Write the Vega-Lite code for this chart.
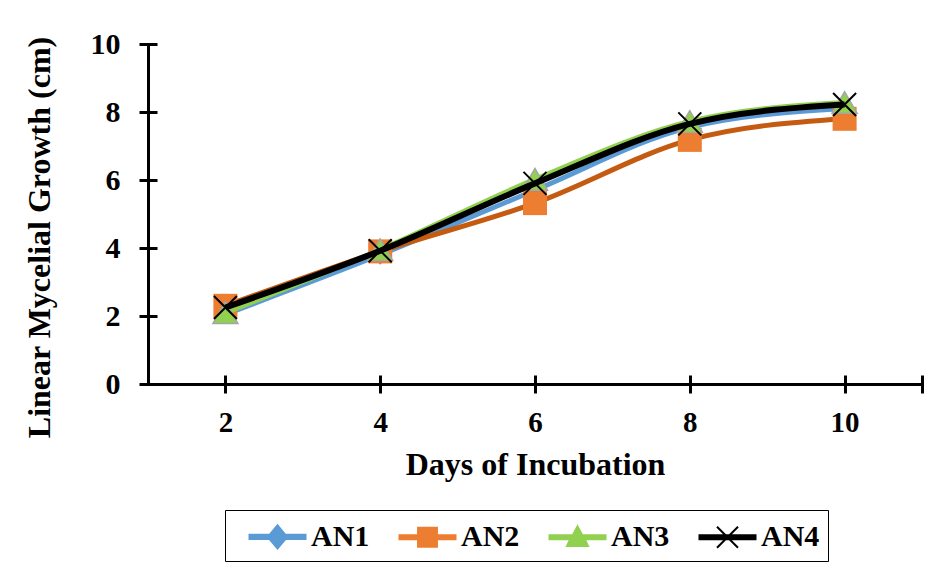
{
  "$schema": "https://vega.github.io/schema/vega-lite/v6.json",
  "width": 774,
  "height": 340,
  "autosize": "none",
  "padding": {"left": 148, "top": 44, "right": 16, "bottom": 194},
  "background": "white",
  "config": {
    "view": {"stroke": null},
    "font": "Liberation Serif"
  },
  "resolve": {"axis": {"x": "independent", "y": "independent"}},
  "data": {
    "values": [
      {"series": "AN1", "day": 2, "growth": 2.05},
      {"series": "AN1", "day": 4, "growth": 3.8},
      {"series": "AN1", "day": 6, "growth": 5.7},
      {"series": "AN1", "day": 8, "growth": 7.55},
      {"series": "AN1", "day": 10, "growth": 8.1},
      {"series": "AN2", "day": 2, "growth": 2.3},
      {"series": "AN2", "day": 4, "growth": 3.9},
      {"series": "AN2", "day": 6, "growth": 5.32},
      {"series": "AN2", "day": 8, "growth": 7.18},
      {"series": "AN2", "day": 10, "growth": 7.8},
      {"series": "AN3", "day": 2, "growth": 2.1},
      {"series": "AN3", "day": 4, "growth": 3.95},
      {"series": "AN3", "day": 6, "growth": 6.02},
      {"series": "AN3", "day": 8, "growth": 7.72},
      {"series": "AN3", "day": 10, "growth": 8.28},
      {"series": "AN4", "day": 2, "growth": 2.25},
      {"series": "AN4", "day": 4, "growth": 3.92},
      {"series": "AN4", "day": 6, "growth": 5.9},
      {"series": "AN4", "day": 8, "growth": 7.65},
      {"series": "AN4", "day": 10, "growth": 8.22}
    ]
  },
  "layer": [
    {
      "mark": {"type": "point", "opacity": 0},
      "encoding": {
        "x": {
          "field": "day",
          "type": "quantitative",
          "scale": {"domain": [1, 11], "nice": false, "zero": false},
          "axis": {
            "orient": "bottom",
            "title": null,
            "values": [2, 4, 6, 8, 10, 11],
            "labels": false,
            "domain": false,
            "grid": false,
            "tickColor": "black",
            "tickWidth": 3,
            "tickSize": 18,
            "offset": -9,
            "zindex": 1
          }
        },
        "y": {
          "field": "growth",
          "type": "quantitative",
          "scale": {"domain": [0, 10], "nice": false},
          "axis": {
            "orient": "left",
            "title": null,
            "values": [0, 2, 4, 6, 8, 10],
            "labels": false,
            "domain": false,
            "grid": false,
            "tickColor": "black",
            "tickWidth": 3,
            "tickSize": 18,
            "offset": -9,
            "zindex": 1
          }
        }
      }
    },
    {
      "encoding": {
        "x": {
          "field": "day",
          "type": "quantitative",
          "scale": {"domain": [1, 11], "nice": false, "zero": false},
          "axis": {
            "orient": "bottom",
            "title": "Days of Incubation",
            "values": [2, 4, 6, 8, 10, 11],
            "labelExpr": "datum.value == 11 ? '' : datum.label",
            "grid": false,
            "domainColor": "black",
            "domainWidth": 3,
            "ticks": false,
            "labelFont": "Liberation Serif",
            "labelFontSize": 29,
            "labelFontWeight": "bold",
            "labelColor": "black",
            "labelPadding": 24,
            "titleFont": "Liberation Serif",
            "titleFontSize": 32,
            "titleFontWeight": "bold",
            "titleColor": "black",
            "titlePadding": 12
          }
        },
        "y": {
          "field": "growth",
          "type": "quantitative",
          "scale": {"domain": [0, 10], "nice": false},
          "axis": {
            "orient": "left",
            "title": "Linear Mycelial Growth (cm)",
            "values": [0, 2, 4, 6, 8, 10],
            "grid": false,
            "domainColor": "black",
            "domainWidth": 3,
            "ticks": false,
            "labelFont": "Liberation Serif",
            "labelFontSize": 30,
            "labelFontWeight": "bold",
            "labelColor": "black",
            "labelPadding": 28,
            "titleFont": "Liberation Serif",
            "titleFontSize": 32,
            "titleFontWeight": "bold",
            "titleColor": "black",
            "titlePadding": 34,
            "titleY": 193
          }
        }
      },
      "layer": [
        {
          "transform": [{"filter": "datum.series === 'AN1'"}],
          "mark": {"type": "line", "color": "#5B9BD5", "strokeWidth": 5, "interpolate": "monotone"},
          "encoding": {}
        },
        {
          "transform": [{"filter": "datum.series === 'AN1'"}],
          "mark": {"type": "point", "shape": "diamond", "filled": true, "fill": "#5B9BD5", "opacity": 1, "size": 400}
        },
        {
          "transform": [{"filter": "datum.series === 'AN2'"}],
          "mark": {"type": "line", "color": "#C55A11", "strokeWidth": 5, "interpolate": "monotone"},
          "encoding": {}
        },
        {
          "transform": [{"filter": "datum.series === 'AN2'"}],
          "mark": {"type": "point", "shape": "square", "filled": true, "fill": "#ED7D31", "opacity": 1, "size": 576}
        },
        {
          "transform": [{"filter": "datum.series === 'AN3'"}],
          "mark": {"type": "line", "color": "#92D050", "strokeWidth": 5, "interpolate": "monotone"},
          "encoding": {}
        },
        {
          "transform": [{"filter": "datum.series === 'AN3'"}],
          "mark": {"type": "point", "shape": "triangle-up", "filled": true, "fill": "#92D050", "stroke": "#A5A5A5", "strokeWidth": 1.5, "opacity": 1, "size": 625}
        },
        {
          "transform": [{"filter": "datum.series === 'AN4'"}],
          "mark": {"type": "line", "color": "black", "strokeWidth": 6, "interpolate": "monotone"},
          "encoding": {}
        },
        {
          "transform": [{"filter": "datum.series === 'AN4'"}],
          "mark": {"type": "point", "shape": "M-1,-1L1,1M-1,1L1,-1", "filled": false, "stroke": "black", "strokeWidth": 2, "opacity": 1, "size": 529}
        },
        {
          "transform": [{"filter": "false"}],
          "mark": {"type": "point", "filled": true, "opacity": 1, "size": 1225, "strokeWidth": 2},
          "encoding": {
            "shape": {
              "field": "series",
              "type": "nominal",
              "scale": {
                "domain": ["AN1", "AN2", "AN3", "AN4"],
                "range": [
                  "M-1.6,-0.12L-0.45,-0.12L0,-0.66L0.45,-0.12L1.6,-0.12L1.6,0.12L0.45,0.12L0,0.66L-0.45,0.12L-1.6,0.12Z",
                  "M-1.6,-0.12H-0.54V-0.54H0.54V-0.12H1.6V0.12H0.54V0.54H-0.54V0.12H-1.6Z",
                  "M-1.6,-0.12L-0.27,-0.12L0,-0.62L0.27,-0.12L1.6,-0.12L1.6,0.12L0.42,0.12L0.6,0.5L-0.6,0.5L-0.42,0.12L-1.6,0.12Z",
                  "M-1.6,-0.12H1.6V0.12H-1.6Z M-0.6,-0.6L0.6,0.6M-0.6,0.6L0.6,-0.6"
                ]
              },
              "legend": {
                "title": null,
                "orient": "none",
                "legendX": 77,
                "legendY": 466,
                "direction": "horizontal",
                "strokeColor": "black",
                "padding": 8,
                "symbolSize": 1225,
                "symbolStrokeWidth": 2,
                "symbolOffset": 26,
                "labelFont": "Liberation Serif",
                "labelFontSize": 30,
                "labelFontWeight": "bold",
                "labelColor": "black",
                "labelOffset": 15,
                "columnPadding": 13
              }
            },
            "fill": {
              "field": "series",
              "type": "nominal",
              "scale": {"domain": ["AN1", "AN2", "AN3", "AN4"], "range": ["#5B9BD5", "#ED7D31", "#92D050", "black"]},
              "legend": null
            },
            "stroke": {
              "field": "series",
              "type": "nominal",
              "scale": {"domain": ["AN1", "AN2", "AN3", "AN4"], "range": ["#5B9BD5", "#ED7D31", "#92D050", "black"]},
              "legend": null
            }
          }
        }
      ]
    }
  ]
}
